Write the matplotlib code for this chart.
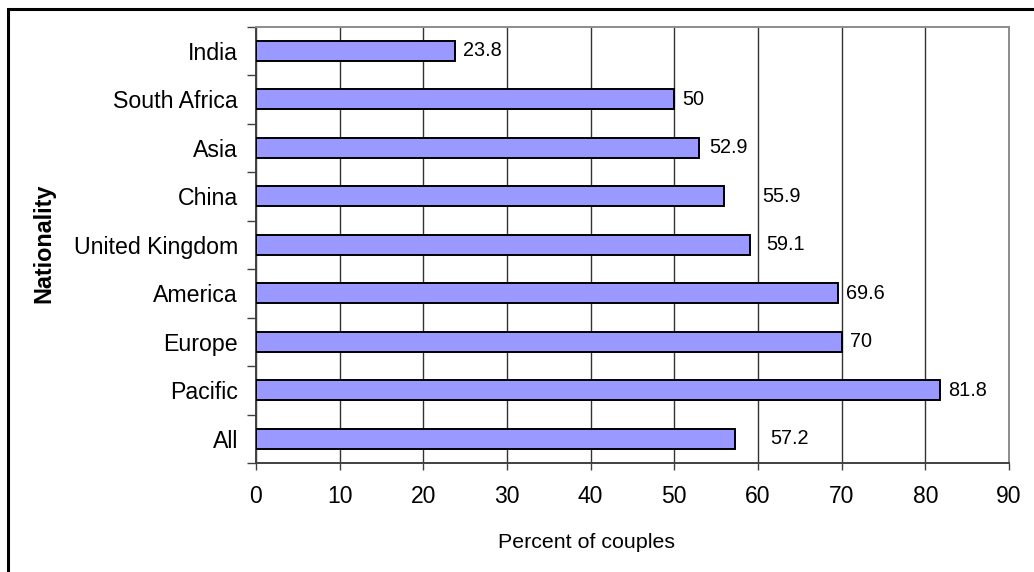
import matplotlib
matplotlib.use("Agg")
import matplotlib.pyplot as plt
from matplotlib.patches import Rectangle
from matplotlib.ticker import FixedLocator, NullFormatter

plt.rcParams['font.family'] = ['Liberation Sans', 'DejaVu Sans']

# Share of couples by nationality (top to bottom as listed)
nationalities = ["India", "South Africa", "Asia", "China", "United Kingdom",
                 "America", "Europe", "Pacific", "All"]
percent = [23.8, 50, 52.9, 55.9, 59.1, 69.6, 70, 81.8, 57.2]
value_labels = ["23.8", "50", "52.9", "55.9", "59.1", "69.6", "70", "81.8", "57.2"]
x_ticks = [0, 10, 20, 30, 40, 50, 60, 70, 80, 90]

# horizontal gap (points) between each bar end and its value label
label_gap_pt = [5.5, 5.5, 7.5, 28, 11.5, 5.5, 6, 5.5, 25.5]

W, H = 1034, 572
fig = plt.figure(figsize=(W / 100, H / 100), dpi=100)
fig.patch.set_facecolor("white")

# outer chart frame
fig.patches.append(Rectangle((7.5 / W, -0.05), 1.2, 1 - 8.5 / H + 0.05,
                             transform=fig.transFigure, fill=False,
                             edgecolor="black", linewidth=2.2, clip_on=False))

left, right, top, bottom = 256 / W, 1009 / W, 1 - 26.5 / H, 1 - 463 / H
ax = fig.add_axes([left, bottom, right - left, top - bottom])

n = len(nationalities)
ypos = list(range(n))
bars = ax.barh(ypos, percent, height=0.42, color="#9999FF",
               edgecolor="black", linewidth=1.4, zorder=3)

ax.set_xlim(0, 90)
ax.set_ylim(n - 0.5, -0.5)
ax.set_xticks(x_ticks)
ax.set_xticklabels([str(t) for t in x_ticks], fontsize=16.5)
ax.tick_params(axis="x", length=5, width=1, color="#404040", pad=10.5)

ax.set_yticks(ypos)
ax.set_yticklabels(nationalities, fontsize=16.7)
ax.tick_params(axis="y", which="major", length=0, pad=13)
ax.yaxis.set_minor_locator(FixedLocator([i - 0.5 for i in range(n + 1)]))
ax.yaxis.set_minor_formatter(NullFormatter())
ax.tick_params(axis="y", which="minor", length=6.5, width=1, color="#404040")

ax.grid(axis="x", color="#333333", linewidth=1.0, zorder=0)
ax.set_axisbelow(True)

for side in ("top", "right"):
    ax.spines[side].set_color("#8c8c8c")
    ax.spines[side].set_linewidth(1.4)
for side in ("left", "bottom"):
    ax.spines[side].set_color("#404040")
    ax.spines[side].set_linewidth(1.4)

for rect, txt, gap in zip(bars, value_labels, label_gap_pt):
    ax.annotate(txt, xy=(rect.get_width(), rect.get_y() + rect.get_height() / 2),
                xytext=(gap, 0), textcoords="offset points",
                ha="left", va="center", fontsize=14.3)

fig.text(586 / W, 1 - 542 / H, "Percent of couples", ha="center", va="center",
         fontsize=15.4)
fig.text(44 / W, 1 - 243 / H, "Nationality", ha="center", va="center",
         rotation=90, fontsize=16.8, fontweight="bold")

fig.savefig("out.png", dpi=100, facecolor="white")
